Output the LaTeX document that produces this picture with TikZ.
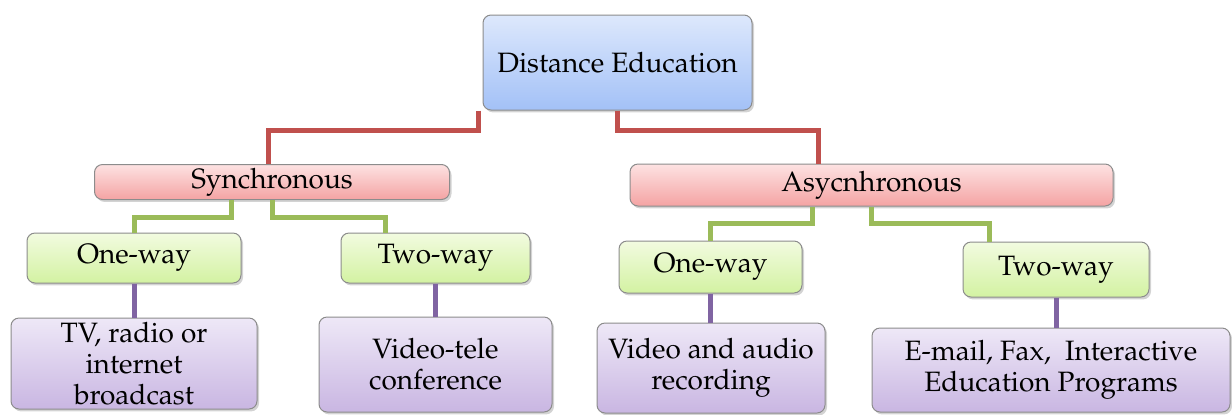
\documentclass[tikz,border=0pt]{standalone}
\usepackage[T1]{fontenc}
\usepackage{mathpazo}
\usetikzlibrary{calc,shadows}

\definecolor{boxline}{HTML}{8C8C8C}
\definecolor{blueT}{HTML}{DDE8FC}
\definecolor{blueB}{HTML}{A3C1F7}
\definecolor{pinkT}{HTML}{FDE2E2}
\definecolor{pinkB}{HTML}{F4A3A3}
\definecolor{greenT}{HTML}{F2FBE0}
\definecolor{greenB}{HTML}{D3F2A2}
\definecolor{lilacT}{HTML}{EEE8F7}
\definecolor{lilacB}{HTML}{C9B6E2}
\definecolor{redC}{HTML}{C0504D}
\definecolor{greenC}{HTML}{9BBB59}
\definecolor{purpleC}{HTML}{8064A2}

\tikzset{
    box/.style={draw=boxline,line width=0.5pt,rounded corners=4pt,align=center,inner sep=1pt,
        font=\fontsize{14}{15.6}\selectfont,
        drop shadow={shadow xshift=1pt,shadow yshift=-1.2pt,opacity=0.35}},
    rootbox/.style={box,top color=blueT,bottom color=blueB},
    modebox/.style={box,top color=pinkT,bottom color=pinkB},
    waybox/.style={box,top color=greenT,bottom color=greenB},
    mediabox/.style={box,top color=lilacT,bottom color=lilacB},
    redline/.style={draw=redC,line width=2.5pt},
    greenline/.style={draw=greenC,line width=2.5pt},
    purpleline/.style={draw=purpleC,line width=2.5pt}
}

\begin{document}
\begin{tikzpicture}[x=0.5pt,y=-0.5pt]
    \useasboundingbox (0,0) rectangle (1232,414);

    % heights of the elbows
    \coordinate (redmid) at (0,130);
    \coordinate (gmidA) at (0,217);
    \coordinate (gmidB) at (0,223);

    % top level
    \node[rootbox,minimum width=134.5pt,minimum height=47.5pt] (de) at (617.5,62.5) {Distance Education};

    % synchronous / asynchronous
    \node[modebox,minimum width=177.5pt,minimum height=17.5pt] (sync) at (272,182) {Synchronous};
    \node[modebox,minimum width=241.5pt,minimum height=21pt] (async) at (871.5,185) {Asycnhronous};

    \coordinate (r1) at ($(de.south)+(-139.5,0)$);
    \draw[redline] (r1) -- (r1 |- redmid) -| ($(sync.north)+(-4,0)$);
    \draw[redline] (de.south) -- (de.south |- redmid) -| ($(async.north)+(-53.5,0)$);

    % one-way / two-way
    \node[waybox,minimum width=107pt,minimum height=25pt] (ow1) at (134,258) {One-way};
    \node[waybox,minimum width=94.5pt,minimum height=25pt] (tw1) at (435.5,258) {Two-way};
    \node[waybox,minimum width=91.5pt,minimum height=26pt] (ow2) at (710.5,267) {One-way};
    \node[waybox,minimum width=93pt,minimum height=27.5pt] (tw2) at (1056,269.5) {Two-way};

    \coordinate (g1) at ($(sync.south)+(-41,0)$);
    \coordinate (g2) at ($(async.south)+(-59.5,0)$);
    \draw[greenline] (g1) -- (g1 |- gmidA) -| (ow1.north);
    \draw[greenline] (sync.south) -- (sync.south |- gmidA) -| ($(tw1.north)+(-50.5,0)$);
    \draw[greenline] (g2) -- (g2 |- gmidB) -| (ow2.north);
    \draw[greenline] (async.south) -- (async.south |- gmidB) -| ($(tw2.north)+(-67,0)$);

    % media
    \node[mediabox,minimum width=123pt,minimum height=45.5pt] (tv) at (134,363.5) {TV, radio or\\internet\\broadcast};
    \node[mediabox,minimum width=116.5pt,minimum height=47.5pt] (vt) at (435.5,364.5) {Video-tele\\conference};
    \node[mediabox,minimum width=114pt,minimum height=45pt] (va) at (711,368) {Video and audio\\recording};
    \node[mediabox,minimum width=179pt,minimum height=42pt] (em) at (1051,370) {E-mail, Fax,\ \ Interactive\\Education Programs};

    \foreach \a/\b in {ow1/tv,tw1/vt,ow2/va,tw2/em}
        \draw[purpleline] (\a.south) -- (\a.south |- \b.north);
\end{tikzpicture}
\end{document}
